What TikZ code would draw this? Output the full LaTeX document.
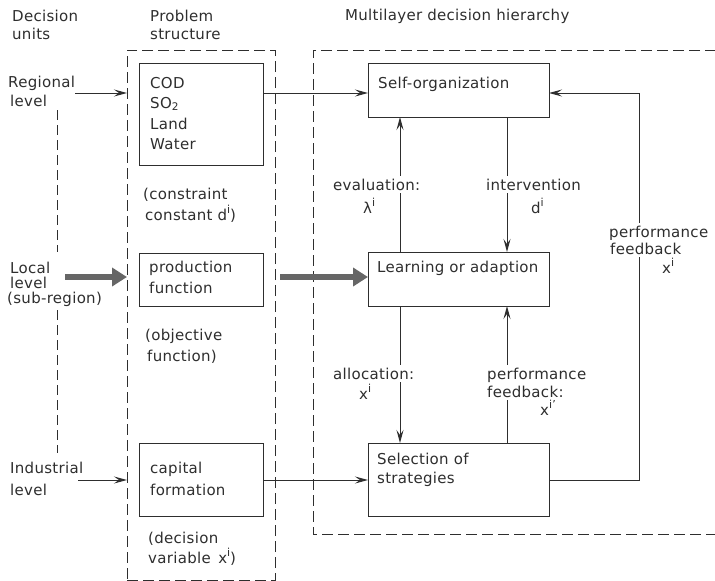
\documentclass[tikz,border=0pt]{standalone}
\usepackage{fontspec}
\setmainfont{DejaVu Sans}[LetterSpace=2]
\usetikzlibrary{arrows.meta,calc}
\definecolor{ink}{gray}{0.18}
\definecolor{heavy}{gray}{0.40}
% raised index letter, a little larger than \textsuperscript
\newcommand{\upidx}[1]{\raisebox{0.85ex}{\fontsize{11}{11}\selectfont #1}}
\tikzset{
  txt/.style={anchor=base west, inner sep=0pt, text=ink},
  lbl/.style={txt, fill=white, inner ysep=3pt},
  blk/.style={draw=ink, line width=1pt, rectangle, inner sep=0pt, outer sep=0pt},
  frame/.style={draw=ink, line width=1pt, dash pattern=on 11pt off 5pt},
  arr/.style={draw=ink, line width=1pt, -{Stealth[length=13pt,width=7pt,inset=5pt]}},
  wire/.style={draw=ink, line width=1pt},
  bigarr/.style={draw=heavy, line width=6.5pt, -{Triangle[length=15pt,width=18pt]}},
}
\begin{document}
\begin{tikzpicture}[x=1pt,y=-1pt,font=\fontsize{15}{20}\selectfont]
\useasboundingbox (0,0) rectangle (715,581);

% column headings
\node[txt] (h1a) at (12,21) {Decision};
\node[txt] (h1b) at (12,39) {units};
\node[txt] (h2a) at (150,21) {Problem};
\node[txt] (h2b) at (150,39) {structure};
\node[txt] (h3)  at (345,20) {Multilayer decision hierarchy};

% problem-structure frame and the hierarchy frame (open to the right)
\node[frame, minimum width=148pt, minimum height=530pt, inner sep=0pt, outer sep=0pt] (ps) at (201,315) {};
\coordinate (mhTR) at (716,50);
\coordinate (mhTL) at (313,50);
\coordinate (mhBL) at (313,534);
\coordinate (mhBR) at (716,534);
\draw[frame] (mhTR) -- (mhTL) -- (mhBL) -- (mhBR);

% decision units
\node[txt] (reg1) at (8,87) {Regional};
\node[txt] (reg2) at (10,106) {level};
\node[txt] (loc1) at (10,273) {Local};
\node[txt] (loc2) at (10,288) {level};
\node[txt] (loc3) at (7,303) {(sub-region)};
\node[txt] (ind1) at (10,473) {Industrial};
\node[txt] (ind2) at (10,495) {level};
\coordinate (du1a) at (57,110);
\coordinate (du1b) at (57,252);
\coordinate (du2a) at (57,310);
\coordinate (du2b) at (57,453);
\draw[frame, dash pattern=on 10pt off 5pt] (du1a) -- (du1b);
\draw[frame, dash pattern=on 10pt off 5pt] (du2a) -- (du2b);

% problem-structure blocks
\node[blk, minimum width=124pt, minimum height=102pt] (cod) at (201,114) {};
\node[txt] (codA) at (150,88) {COD};
\node[txt] (codB) at (150,108) {SO\textsubscript{2}};
\node[txt] (codC) at (150,129) {Land};
\node[txt] (codD) at (150,149) {Water};
\node[txt] (cc1) at (143,199) {(constraint};
\node[txt] (cc2) at (145,220) {constant d\upidx{i})};

\node[blk, minimum width=124pt, minimum height=53pt] (prod) at (201,279.5) {};
\node[txt] (prA) at (149,272) {production};
\node[txt] (prB) at (149,293) {function};
\node[txt] (of1) at (145,340) {(objective};
\node[txt] (of2) at (147,361) {function)};

\node[blk, minimum width=124pt, minimum height=73pt] (cap) at (201,479.5) {};
\node[txt] (cpA) at (150,473) {capital};
\node[txt] (cpB) at (150,495) {formation};
\node[txt] (dv1) at (148,543) {(decision};
\node[txt] (dv2) at (148,563) {variable\enspace x\upidx{i})};

% hierarchy blocks
\node[blk, minimum width=181pt, minimum height=54pt] (self) at (458.5,90) {};
\node[txt] (selfT) at (378,88) {Self-organization};
\node[blk, minimum width=181pt, minimum height=54pt] (learn) at (458.5,279) {};
\node[txt] (learnT) at (377,272) {Learning or adaption};
\node[blk, minimum width=181pt, minimum height=73pt] (sel) at (458.5,479.5) {};
\node[txt] (selA) at (377,464) {Selection of};
\node[txt] (selB) at (377,483) {strategies};

% reference rows and columns for connectors
\coordinate (ry) at (0,93);
\coordinate (ly) at (0,277);
\coordinate (iy) at (0,480);
\coordinate (lx) at (400,0);
\coordinate (rx) at (507,0);
\coordinate (fx) at (639,0);
\coordinate (regS) at (75,93);
\coordinate (locS) at (65,277);
\coordinate (indS) at (78,480);

% inputs from the decision units
\draw[arr] (regS) -- (ps.west |- regS);
\draw[bigarr] (locS) -- (ps.west |- locS);
\draw[arr] (indS) -- (ps.west |- indS);

% problem structure to hierarchy
\draw[arr] (cod.east |- ry) -- (self.west |- ry);
\draw[bigarr] ($(ps.east |- ly)+(5,0)$) -- (learn.west |- ly);
\draw[arr] (cap.east |- iy) -- (sel.west |- iy);

% vertical links inside the hierarchy
\draw[arr] (learn.north -| lx) -- (self.south -| lx);
\draw[arr] (self.south -| rx) -- (learn.north -| rx);
\draw[arr] (learn.south -| lx) -- (sel.north -| lx);
\draw[arr] (sel.north -| rx) -- (learn.south -| rx);
\draw[arr] (sel.east |- iy) -| (fx |- ry) -- (self.east |- ry);

% connector labels
\node[lbl] (evA) at (333,190) {evaluation:};
\node[txt] (evB) at (363,213) {λ\upidx{i}};
\node[lbl] (inA) at (486,190) {intervention};
\node[txt] (inB) at (531,213) {d\upidx{i}};
\node[lbl] (alA) at (333,379) {allocation:};
\node[txt] (alB) at (359,399) {x\upidx{i}};
\node[lbl] (pfA) at (487,379) {performance};
\node[lbl] (pfB) at (487,397) {feedback:};
\node[txt] (pfC) at (540,415) {x\upidx{i'}};
\node[lbl] (fbA) at (609,237) {performance};
\node[lbl] (fbB) at (610,254) {feedback};
\node[txt] (fbC) at (662,273) {x\upidx{i}};
\end{tikzpicture}
\end{document}
